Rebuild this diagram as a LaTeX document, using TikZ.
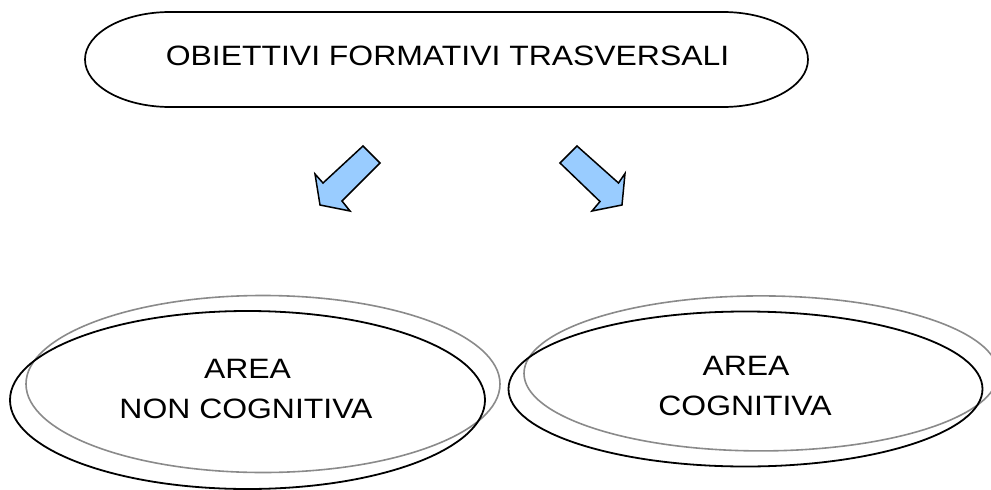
\documentclass[tikz,border=0pt]{standalone}
\usepackage{fontspec}
\setmainfont[FakeStretch=1.14]{Liberation Sans}
\usetikzlibrary{shapes.geometric}
\definecolor{arrowblue}{HTML}{99CCFF}
\definecolor{ringgray}{HTML}{8A8A8A}
\tikzset{
  label/.style={font=\fontsize{28}{34}\selectfont, inner sep=0pt, anchor=base},
  blackring/.style={draw=black, line width=1.8pt, ellipse, inner sep=0pt},
  grayring/.style={draw=ringgray, line width=1.6pt, ellipse, inner sep=0pt},
  titlebox/.style={draw=black, line width=1.7pt},
  bluearrow/.style={fill=arrowblue, draw=black, line width=1.5pt, line join=miter}
}
\begin{document}
\begin{tikzpicture}[x=1pt,y=-1pt]
\useasboundingbox (0,0) rectangle (991,490);
% title box
\draw[titlebox] (170,12) -- (723,12)
  arc[start angle=-90, end angle=90, x radius=85, y radius=47.5]
  -- (170,107)
  arc[start angle=90, end angle=270, x radius=85, y radius=47.5] -- cycle;
\node[label] (titletext) at (447.5,65.5) {OBIETTIVI FORMATIVI TRASVERSALI};
% arrows
\draw[bluearrow] (363,146) -- (380,163) -- (342,201) -- (350,211) -- (320,205) -- (315,174) -- (323,183) -- cycle;
\draw[bluearrow] (577,146) -- (560,163) -- (600,201.5) -- (592,211) -- (622,205) -- (625,173.5) -- (618.5,183) -- cycle;
% left ellipses
\node[grayring, minimum width=474pt, minimum height=177pt] (lgray) at (263,384) {};
\node[blackring, minimum width=475pt, minimum height=178pt] (lblack) at (247.5,400) {};
\node[label] (l1) at (247.5,378) {AREA};
\node[label] (l2) at (246,418) {NON COGNITIVA};
% right ellipses
\node[grayring, minimum width=474pt, minimum height=155pt] (rgray) at (761,373.4) {};
\node[blackring, minimum width=474pt, minimum height=155pt] (rblack) at (745.5,389) {};
\node[label] (r1) at (746,375) {AREA};
\node[label] (r2) at (745,415) {COGNITIVA};
\end{tikzpicture}
\end{document}
